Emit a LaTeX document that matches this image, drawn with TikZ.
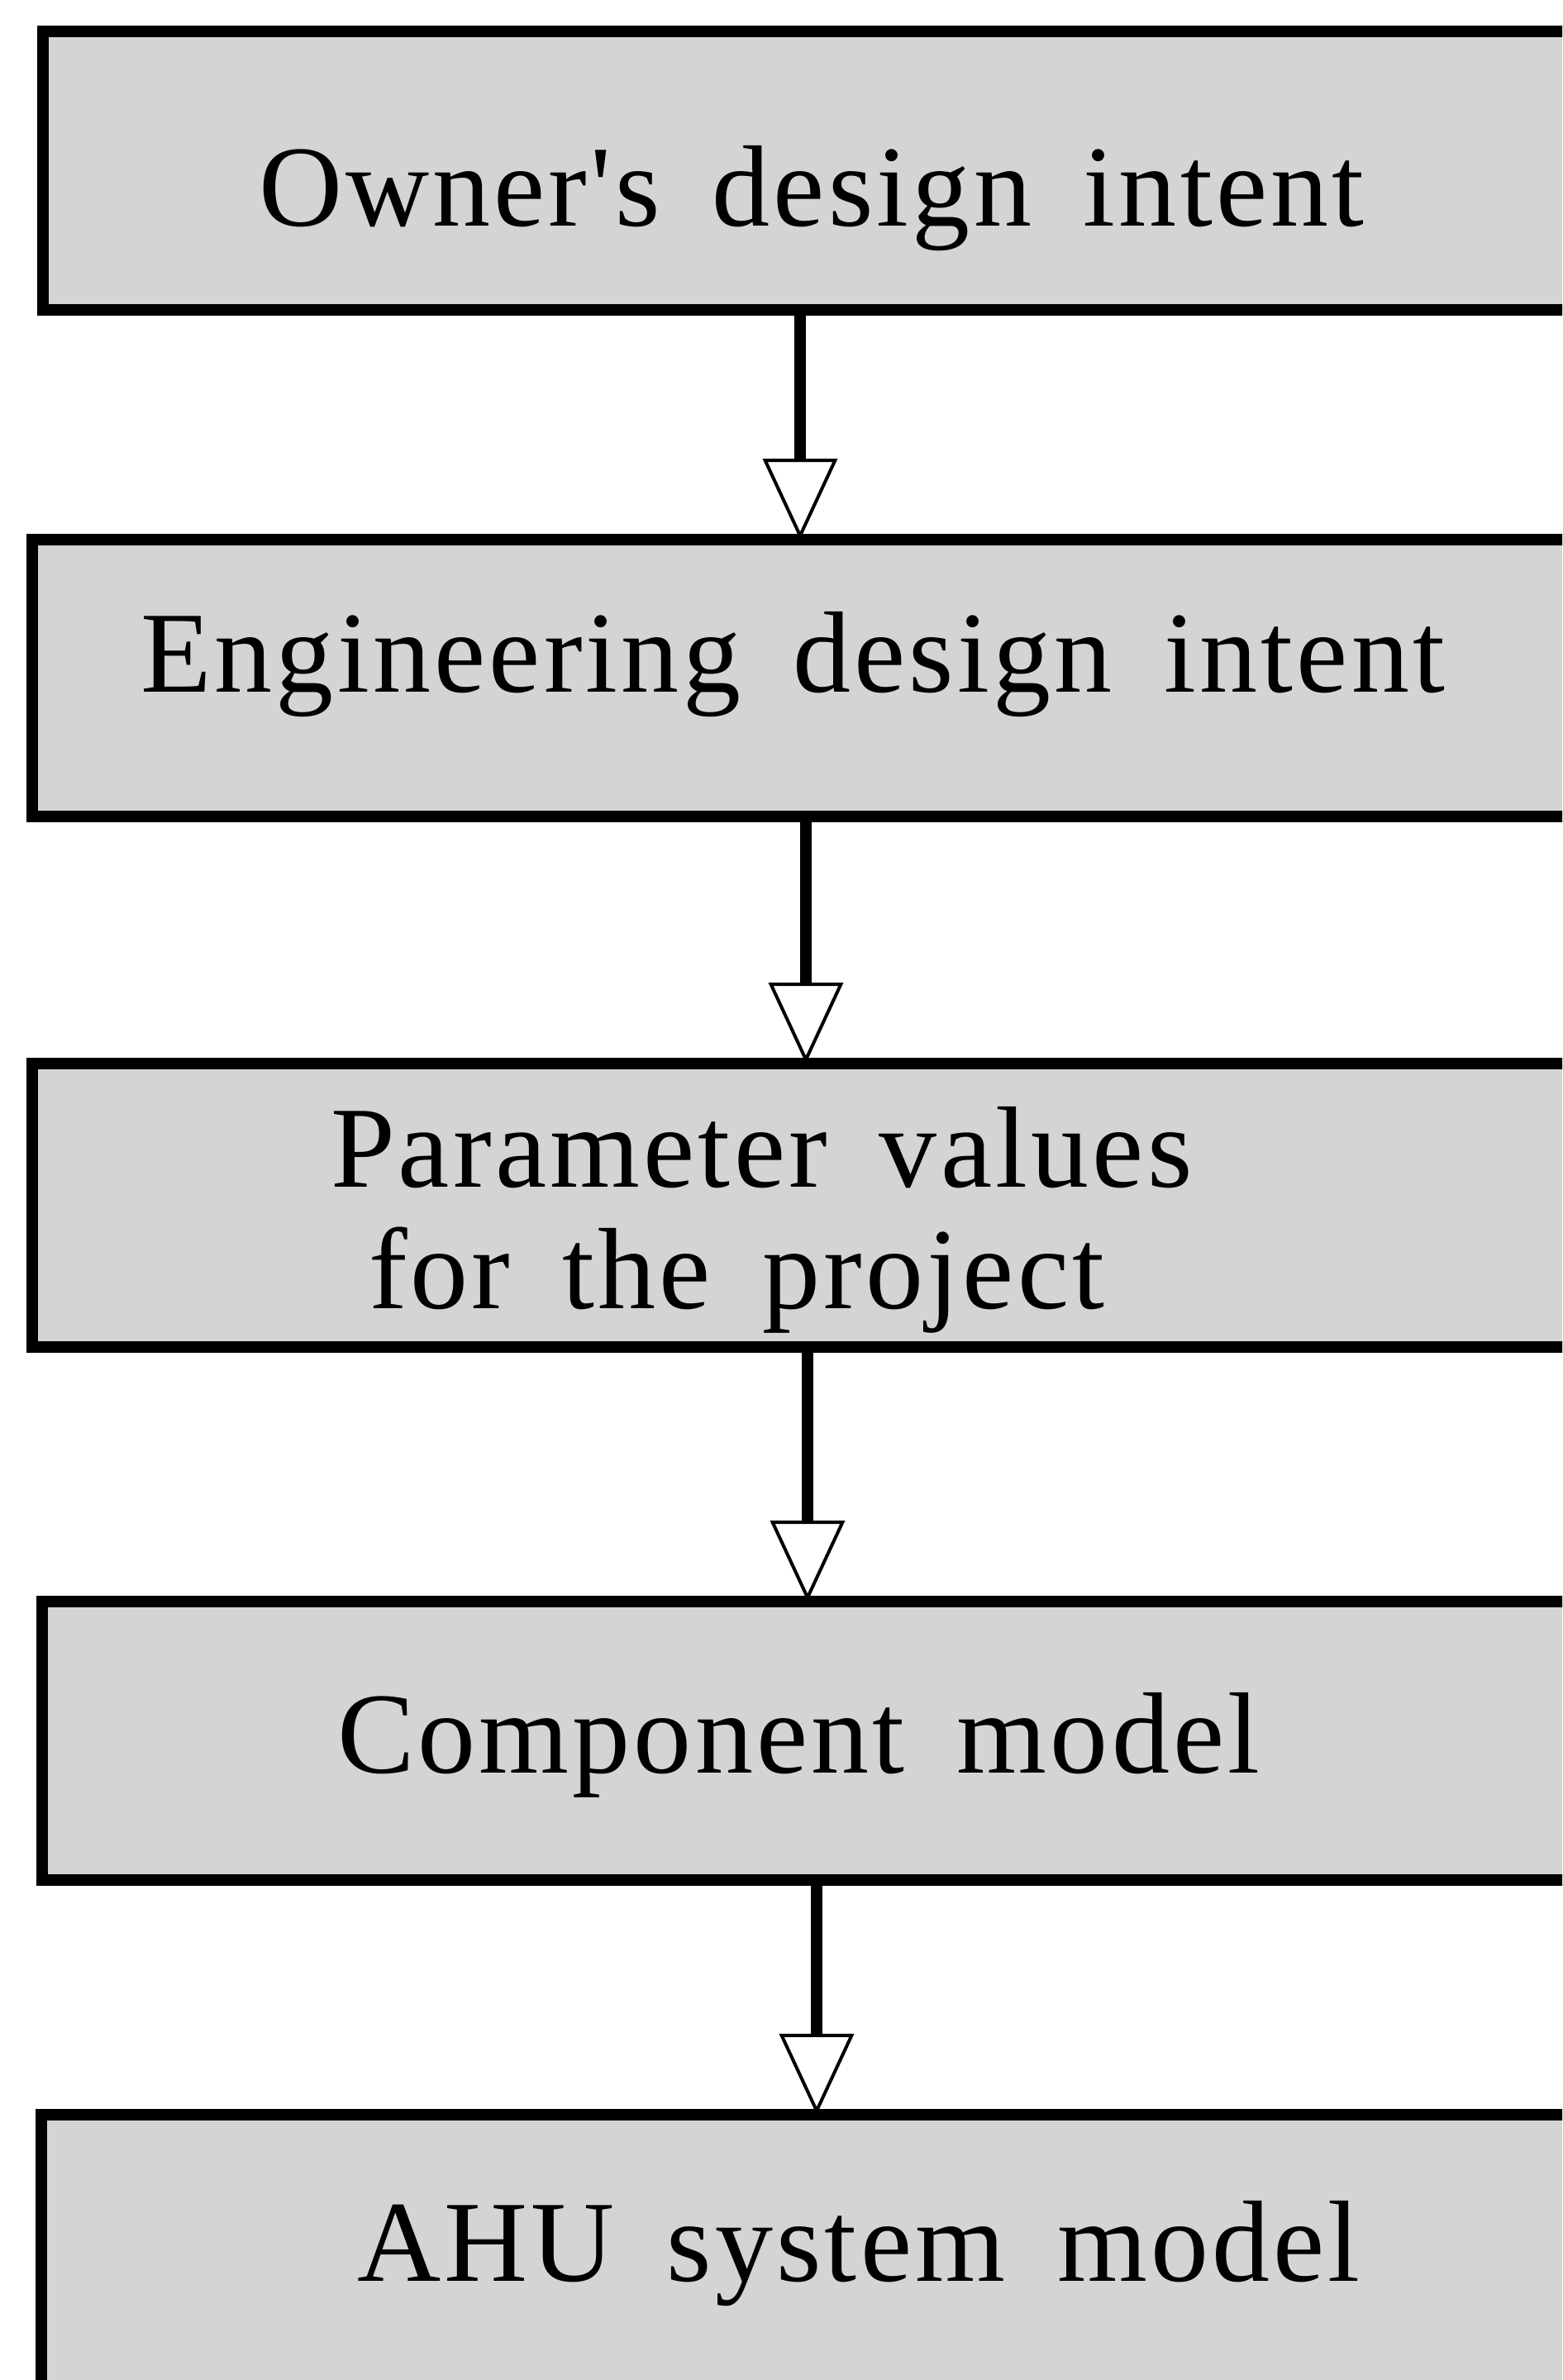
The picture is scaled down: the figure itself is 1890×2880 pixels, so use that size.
\documentclass[tikz,border=0pt]{standalone}
\usepackage{fontspec}
\setmainfont{Liberation Serif}[Ligatures=TeXOff, WordSpace=1.6, LetterSpace=3]
\usetikzlibrary{arrows.meta}
\definecolor{boxgray}{RGB}{212,212,212}
\begin{document}
\begin{tikzpicture}[x=1pt,y=-1pt,
  box/.style={draw=black, fill=boxgray, line width=14pt, minimum width=1900pt,
    anchor=north west, inner sep=0pt, outer sep=0pt},
  lbl/.style={anchor=base west, inner sep=0pt, outer sep=0pt,
    font=\fontsize{140}{160}\selectfont},
  conn/.style={line width=14pt,
    -{Triangle[open, fill=white, length=98pt, width=90pt, line width=4pt]}}]
\clip (0,0) rectangle (1890,2880);
\fill[white] (0,0) rectangle (1890,2880);
% boxes
\node[box, minimum height=337pt] (b1) at (52,38) {};
\node[box, minimum height=335pt] (b2) at (39,653) {};
\node[box, minimum height=343pt] (b3) at (39,1287) {};
\node[box, minimum height=337pt] (b4) at (51,1938) {};
\node[box, minimum height=400pt] (b5) at (50,2559) {};
% labels
\node[lbl] (t1) at (313,273) {Owner's design intent};
\node[lbl] (t2) at (170,837) {Engineering design intent};
\node[lbl] (t3a) at (400,1436) {Parameter values};
\node[lbl] (t3b) at (446,1583) {for the project};
\node[lbl] (t4) at (408,2145) {Component model};
\node[lbl] (t5) at (432,2760) {AHU system model};
% connector x positions
\coordinate (x1) at (968,0);
\coordinate (x2) at (975,0);
\coordinate (x3) at (977,0);
\coordinate (x4) at (988,0);
\draw[conn] (b1.south -| x1) -- (b2.north -| x1);
\draw[conn] (b2.south -| x2) -- (b3.north -| x2);
\draw[conn] (b3.south -| x3) -- (b4.north -| x3);
\draw[conn] (b4.south -| x4) -- (b5.north -| x4);
\end{tikzpicture}
\end{document}
